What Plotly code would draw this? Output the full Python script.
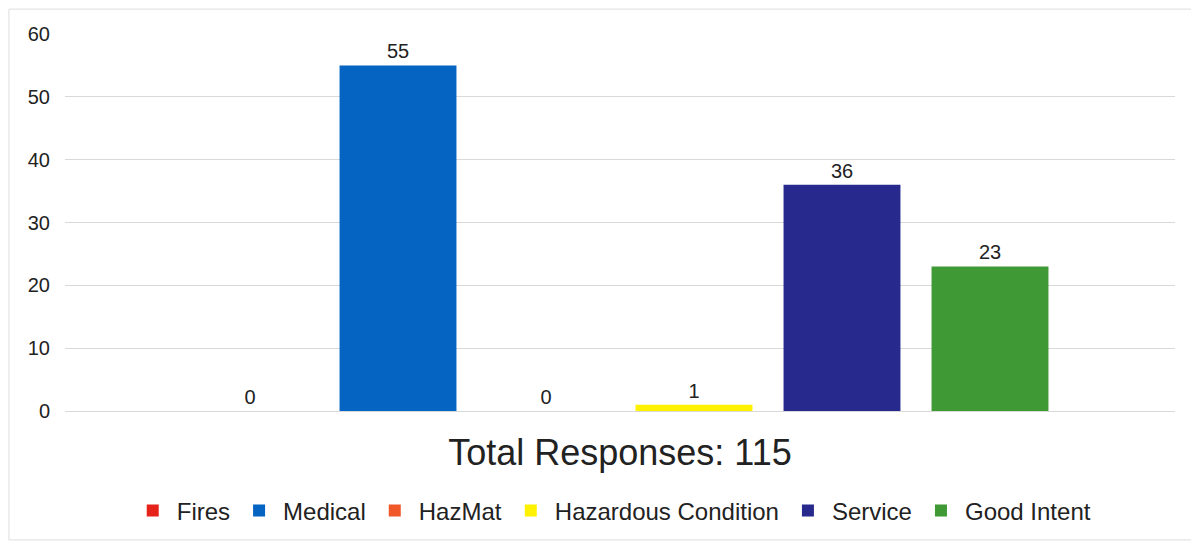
import plotly.graph_objects as go

category = ["Total Responses: 115"]
series_names = ["Fires", "Medical", "HazMat", "Hazardous Condition", "Service", "Good Intent"]
series_values = [0, 55, 0, 1, 36, 23]
series_colors = ["#E5231B", "#0563C1", "#F0582A", "#FFF200", "#272A8C", "#3F9A35"]
y_ticks = [0, 10, 20, 30, 40, 50, 60]

fig = go.Figure()
for name, val, col in zip(series_names, series_values, series_colors):
    fig.add_trace(go.Bar(
        name=name, x=category, y=[val],
        marker=dict(color=col, line=dict(width=0)),
        text=[str(val)], textposition="outside",
        textfont=dict(size=20, color="#222222"),
        cliponaxis=False,
    ))

fig.update_layout(
    width=1199, height=545,
    barmode="group", bargap=0.2, bargroupgap=0.21,
    plot_bgcolor="white", paper_bgcolor="white",
    font=dict(family="Liberation Sans, Arial, sans-serif", color="#222222"),
    margin=dict(l=57, r=32, t=26, b=142),
    showlegend=True,
    legend=dict(orientation="h", x=0.493, xanchor="center", y=-0.265, yanchor="middle",
                font=dict(size=24), itemwidth=38, tracegroupgap=0),
    xaxis=dict(showticklabels=False, showgrid=False, zeroline=False, showline=False,
               title=dict(text="Total Responses: 115", font=dict(size=36), standoff=28)),
    yaxis=dict(range=[0, 60], tickvals=y_ticks, showgrid=True, gridcolor="#D9D9D9",
               gridwidth=1, zeroline=True, zerolinecolor="#D9D9D9", zerolinewidth=1,
               tickfont=dict(size=20), ticklen=0, ticks="", ticklabelstandoff=14),
    shapes=[dict(type="rect", xref="paper", yref="paper", x0=-0.0505, x1=1.018, y0=-0.342, y1=1.066,
                 line=dict(color="#DDDDDD", width=1), fillcolor="rgba(0,0,0,0)", layer="below")],
)

fig.write_html("out.html")
